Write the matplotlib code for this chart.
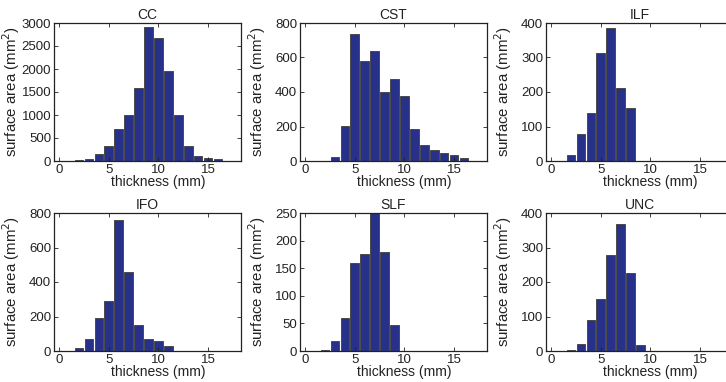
import numpy as np
import matplotlib.pyplot as plt

plt.rcParams['font.family'] = ['Liberation Sans', 'DejaVu Sans']

# ===============================
# Data (bin centres in mm, surface area in mm^2)
# ===============================
thickness = np.arange(0, 19)

names = ["CC", "CST", "ILF", "IFO", "SLF", "UNC"]

cc = [0, 3, 25, 50, 160, 320, 685, 990, 1595, 2910, 2665, 1950, 990, 325, 115, 70, 35, 5, 0]
cst = [0, 0, 0, 23, 205, 738, 578, 638, 400, 475, 377, 186, 93, 62, 45, 33, 18, 0, 0]
ilf = [0, 0, 16, 79, 138, 312, 385, 211, 154, 0, 0, 0, 0, 0, 0, 0, 0, 0, 0]
ifo = [0, 0, 19, 72, 194, 291, 757, 456, 153, 72, 56, 29, 0, 0, 0, 0, 0, 0, 0]
slf = [0, 0, 1, 18, 60, 160, 176, 250, 180, 48, 0, 0, 0, 0, 0, 0, 0, 0, 0]
unc = [0, 0, 2, 20, 91, 152, 277, 369, 226, 16, 0, 0, 0, 0, 0, 0, 0, 0, 0]

series = [cc, cst, ilf, ifo, slf, unc]
y_max = [3000, 800, 400, 800, 250, 400]
y_step = [500, 200, 100, 200, 50, 100]

# ===============================
# Layout (axes positions in figure fractions)
# ===============================
fig = plt.figure(figsize=(7.26, 3.82), dpi=100)

lefts = [54 / 726, 300 / 726, 546 / 726]
bottoms = [1 - 161 / 382, 1 - 351 / 382]
w = 187 / 726
h = 138 / 382

bar_color = "#28318a"
txt = "#222222"

for i, (name, vals) in enumerate(zip(names, series)):
    ax = fig.add_axes([lefts[i % 3], bottoms[i // 3], w, h])
    ax.bar(thickness, vals, width=0.85, color=bar_color,
           edgecolor="#4a4a4a", linewidth=0.7)

    ax.set_xlim(-0.5, 18.3)
    ax.set_ylim(0, y_max[i])
    ax.set_xticks([0, 5, 10, 15])
    ax.set_yticks(np.arange(0, y_max[i] + 1, y_step[i]))

    ax.tick_params(direction="in", length=3, width=0.6, labelsize=9.5,
                   top=True, right=True, pad=2, colors=txt)
    for s in ax.spines.values():
        s.set_linewidth(0.9)
        s.set_color(txt)

    ax.set_title(name, fontsize=10, pad=3, color=txt)
    ax.set_xlabel("thickness (mm)", fontsize=10, color=txt, va="center")
    ax.set_ylabel("surface area (mm$^2$)", fontsize=10.8, color=txt)
    ax.xaxis.set_label_coords(0.555, -0.152)
    ax.yaxis.set_label_coords(-0.172, 0.5)

plt.savefig("out.png", dpi=100)
